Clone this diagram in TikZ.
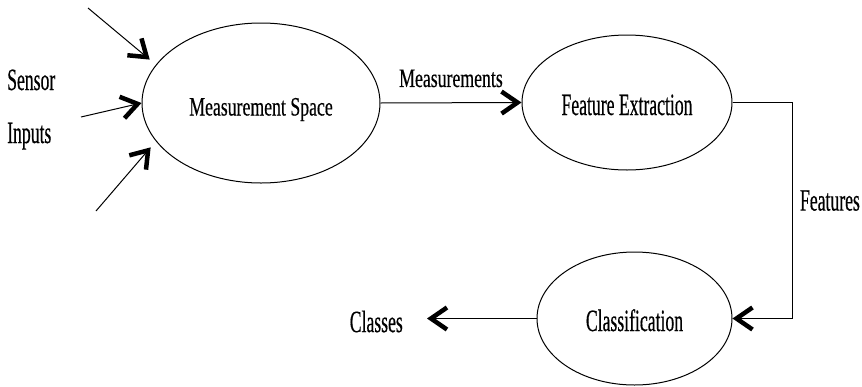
\documentclass[tikz,border=0pt]{standalone}
\usepackage{fontspec}
\setmainfont{Liberation Serif}[FakeStretch=0.57, FakeBold=0.4]
\newfontfamily\lowfont{Liberation Serif}[FakeStretch=0.67, FakeBold=0.4]
\usetikzlibrary{arrows.meta,positioning,shapes.geometric}
\tikzset{
  stage/.style={draw, ellipse, line width=1pt, inner sep=0pt, text height=25pt, text depth=0pt, font=\fontsize{31}{34}\selectfont},
  lbl/.style={inner sep=0pt, font=\fontsize{31}{34}\selectfont},
  lowtext/.style={font=\lowfont\fontsize{26.5}{30}\selectfont},
  flow/.style={-{Straight Barb[length=16pt, width=22pt, line width=4.5pt]}, line width=1pt}
}

\begin{document}
\begin{tikzpicture}[x=1pt, y=-1pt]
        \useasboundingbox (0,0) rectangle (862,386);
        \node[stage, lowtext, minimum width=238pt, minimum height=160pt] (ms) at (261,103) {Measurement Space};
        \node[stage, minimum width=210pt, minimum height=135pt] (fe) at (627,102.5) {Feature Extraction};
        \node[stage, minimum width=195pt, minimum height=133pt] (cl) at (634.5,318.5) {Classification};
        \node[lbl, anchor=base west] (sen) at (7,90) {Sensor};
        \node[lbl, anchor=base west] (inp) at (7,143) {Inputs};
        \coordinate (inA) at (88,8);
        \coordinate (inB) at (81,117);
        \coordinate (inC) at (96,211);
        \coordinate (out) at (427,318.5);
        \node[lbl, left=24pt of out, yshift=-3pt] (cls) {Classes};
        \draw[flow, shorten >=8pt] (inA) -- (ms.160);
        \draw[flow] (inB) -- (ms.west);
        \draw[flow, shorten >=8pt] (inC) -- (ms.200);
        \draw[flow] (ms.east) -- node[lbl, lowtext, above=15pt] {Measurements} (fe.west);
        \draw[flow] (fe.east) -- ++(60,0) |- node[lbl, right=7pt, pos=0.227] {Features} (cl.east);
        \draw[flow] (cl.west) -- (out);
      \end{tikzpicture}
\end{document}
